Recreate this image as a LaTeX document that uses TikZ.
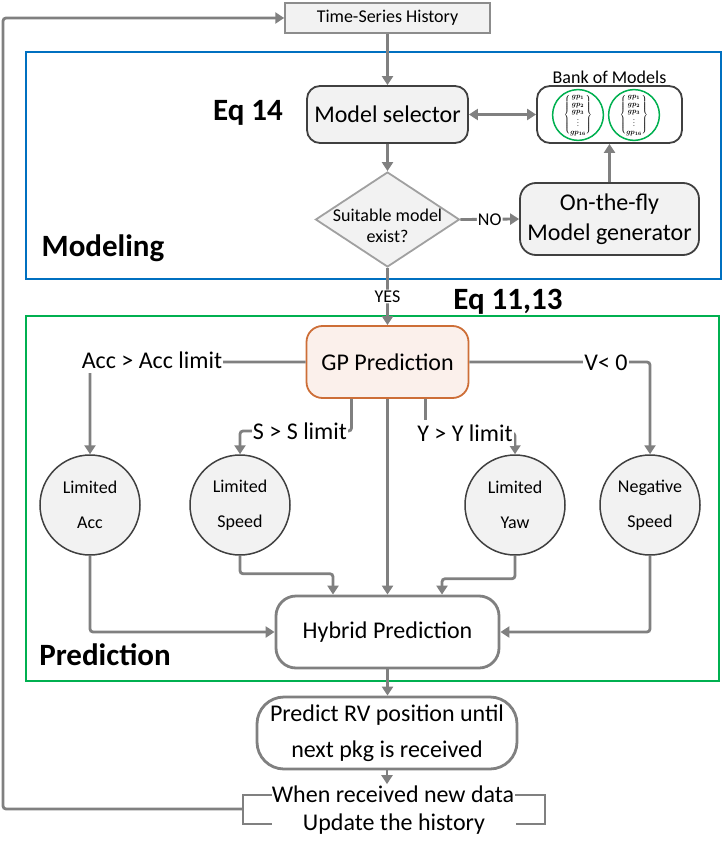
\documentclass[tikz,border=0pt]{standalone}
\usepackage{fontspec}
\setmainfont{Carlito}
\usepackage{graphicx}
\usetikzlibrary{arrows.meta,shapes.geometric,calc}
\definecolor{conncol}{RGB}{128,128,128}
\definecolor{darkc}{RGB}{64,64,64}
\definecolor{lightc}{RGB}{242,242,242}
\definecolor{bluec}{RGB}{0,112,192}
\definecolor{greenc}{RGB}{0,176,80}
\definecolor{orangec}{RGB}{205,110,55}
\definecolor{gpfill}{RGB}{251,240,235}
\definecolor{diac}{RGB}{160,160,160}
\definecolor{tsc}{RGB}{140,140,140}
\newcommand{\gpstack}{\scalebox{0.72}{\renewcommand\arraystretch{0.85}\boldmath$\left\{\begin{array}{@{}c@{}}gp_{1}\\gp_{2}\\gp_{3}\\\vdots\\gp_{16}\end{array}\right\}$}}
\tikzset{
  conn/.style={draw=conncol, line width=2.8pt, rounded corners=3pt},
  arr/.style={conn, -{Triangle[length=9pt,width=11pt]}},
  darr/.style={conn, {Triangle[length=9pt,width=11pt]}-{Triangle[length=9pt,width=11pt]}},
  lbl/.style={fill=white, inner xsep=1pt, inner ysep=5pt, font=\fontsize{24}{29}\selectfont},
  smalllbl/.style={fill=white, inner sep=1pt, font=\fontsize{18}{21}\selectfont},
  gbox/.style={draw=darkc, line width=1.8pt, fill=lightc, rounded corners=13pt, align=center, inner sep=0pt, font=\fontsize{24}{30}\selectfont},
  tsbox/.style={draw=tsc, line width=1.5pt, fill=lightc, minimum width=205pt, minimum height=30pt, inner sep=0pt, font=\fontsize{18}{22}\selectfont},
  bankbox/.style={draw=darkc, line width=1.8pt, fill=white, rounded corners=13pt, minimum width=145pt, minimum height=57pt},
  gpc/.style={circle, draw=greenc, line width=1.5pt, fill=white, minimum size=47pt, inner sep=0pt},
  gpbox/.style={draw=orangec, line width=1.8pt, fill=gpfill, rounded corners=16pt, minimum width=162pt, minimum height=72pt, font=\fontsize{24}{30}\selectfont},
  circ/.style={circle, draw=darkc, line width=1.5pt, fill=lightc, minimum size=100pt, inner sep=0pt, align=center, font=\fontsize{18}{35}\selectfont},
  hbox/.style={draw=conncol, line width=2.8pt, fill=white, rounded corners=20pt, minimum width=223pt, minimum height=72pt, align=center, inner sep=0pt, font=\fontsize{24}{30}\selectfont},
  eqlbl/.style={font=\fontsize{31}{36}\selectfont\bfseries, inner sep=0pt},
  plain/.style={font=\fontsize{24}{29}\selectfont, inner sep=1pt}
}
\begin{document}
\begin{tikzpicture}[x=1pt,y=-1pt]
\useasboundingbox (0,0) rectangle (722,850);
% frames
\draw[draw=bluec, line width=2pt] (26,52) rectangle (721,279);
\draw[draw=greenc, line width=2pt] (26,316) rectangle (719,681);

% modeling part
\node[tsbox] (ts) at (387.5,18) {Time-Series History};
\node[gbox, minimum width=161pt, minimum height=57pt] (ms) at (387.5,114.5) {Model selector};
\node[bankbox] (bank) at (609.5,114.5) {};
\node[anchor=south, inner sep=1.5pt, font=\fontsize{18}{22}\selectfont] (banklbl) at (bank.north) {Bank of Models};
\node[gpc] (g1) at (578,115) {\gpstack};
\node[gpc] (g2) at (634,115) {\gpstack};
\node[gbox, minimum width=179pt, minimum height=72pt, rounded corners=16pt] (otf) at (609.5,219) {On-the-fly\\Model generator};
\node[diamond, draw=diac, line width=1.8pt, fill=lightc, minimum width=144pt, minimum height=95pt, inner sep=0pt] (dia) at (387.5,219.5) {};
\node[align=center, inner sep=0pt, font=\fontsize{18}{21}\selectfont] (diat) at (387.5,226) {Suitable model\\exist?};
\node[eqlbl] (eq14) at (248,113) {Eq 14};
\node[eqlbl] (modl) at (103,248) {Modeling};
\node[eqlbl] (eq11) at (508,302) {Eq 11,13};

% prediction part
\node[gpbox] (gp) at (387.5,362) {GP Prediction};
\node[circ] (lacc) at (90,505) {Limited\\Acc};
\node[circ] (lspd) at (240,505) {Limited\\Speed};
\node[circ] (lyaw) at (515,505) {Limited\\Yaw};
\node[circ] (nspd) at (650,505) {Negative\\Speed};
\node[hbox] (hyb) at (387.5,632) {Hybrid Prediction};
\node[eqlbl] (predl) at (105,655) {Prediction};

% lower part
\node[hbox, minimum width=260pt, rounded corners=27pt, font=\fontsize{24}{36}\selectfont] (prv) at (387,733) {Predict RV position until\\next pkg is received};
\node[plain, anchor=base] (upd1) at (393,802) {When received new data};
\node[plain, anchor=base] (upd2) at (394,830) {Update the history};
\draw[conn, rounded corners=0pt] (272,795) -- (243,795) -- (243,824) -- (272,824);
\draw[conn, rounded corners=0pt] (515,795) -- (545,795) -- (545,824) -- (516,824);
\coordinate (brk) at (243,809);

% connectors (modeling)
\draw[arr] (brk) -- (3,809) |- (ts.west);
\draw[arr] (ts.south) -- (ms.north);
\draw[darr] (ms.east) -- (bank.west);
\draw[arr] (otf.north) -- (bank.south);
\draw[arr] (ms.south) -- (dia.north);
\draw[arr] (dia.east) -- node[smalllbl] (nolbl) {NO} (otf.west);
\draw[arr] (dia.south) -- node[smalllbl, pos=0.5] (yeslbl) {YES} (gp.north);

% connectors (prediction branches)
\coordinate (accc) at (152,360);
\coordinate (slc) at (300,431);
\coordinate (ylc) at (465,433);
\coordinate (vlc) at (606,363);
\draw[arr] (gp.west) -| (lacc.north);
\draw[arr] ([xshift=-36pt]gp.south) |- (slc) -| (lspd.north);
\draw[arr] ([xshift=38pt]gp.south) |- (ylc) -| (lyaw.north);
\draw[arr] (gp.east) -| (nspd.north);
\node[lbl] (accl) at (accc) {Acc > Acc limit};
\node[lbl] (sl) at (slc) {S > S limit};
\node[lbl] (yl) at (ylc) {Y > Y limit};
\node[lbl] (vl) at (vlc) {V< 0};

% into hybrid
\draw[arr] (gp.south) -- (hyb.north);
\draw[arr] (lacc.south) |- (hyb.west);
\draw[arr] (nspd.south) |- (hyb.east);
\draw[arr] (lspd.south) -- ++(0,18) -| ([xshift=-54.5pt]hyb.north);
\draw[arr] (lyaw.south) -- ++(0,23) -| ([xshift=54.5pt]hyb.north);

% lower flow
\draw[arr] (hyb.south) -- (hyb.south |- prv.north);
\draw[arr] (prv.south) -- (prv.south |- upd1.north);
\end{tikzpicture}
\end{document}
